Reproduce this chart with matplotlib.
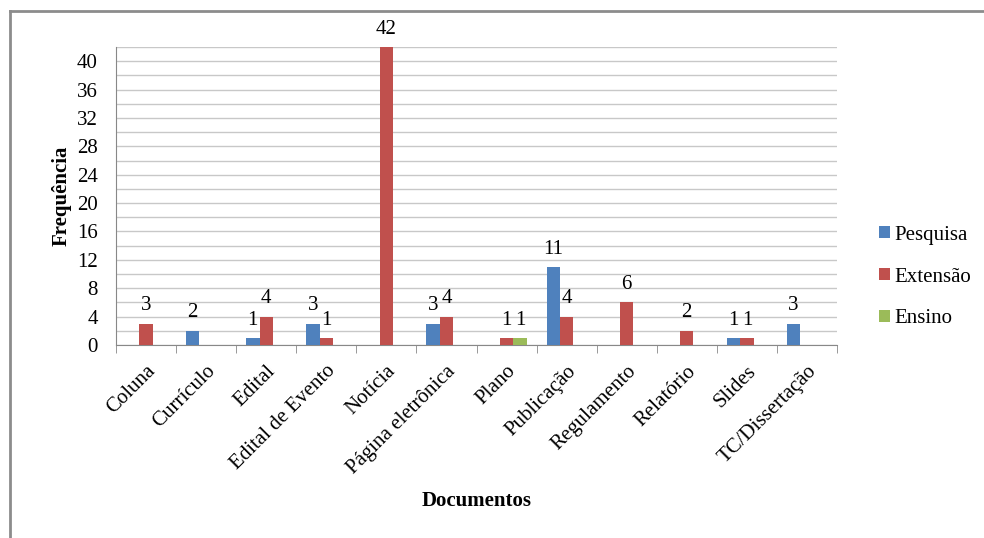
import matplotlib
matplotlib.use("Agg")
import matplotlib.pyplot as plt
import numpy as np
from matplotlib.lines import Line2D

categories = ["Coluna", "Currículo", "Edital", "Edital de Evento", "Notícia",
              "Página eletrônica", "Plano", "Publicação", "Regulamento",
              "Relatório", "Slides", "TC/Dissertação"]
pesquisa = [0, 2, 1, 3, 0, 3, 0, 11, 0, 0, 1, 3]
extensao = [3, 0, 4, 1, 42, 4, 1, 4, 6, 2, 1, 0]
ensino = [0, 0, 0, 0, 0, 0, 1, 0, 0, 0, 0, 0]
series_names = ["Pesquisa", "Extensão", "Ensino"]
colors = ["#4F81BD", "#C0504D", "#9BBB59"]
yticks = list(range(0, 41, 4))

plt.rcParams['font.family'] = ['Liberation Serif', 'DejaVu Serif']

fig = plt.figure(figsize=(9.84, 5.38), dpi=100)
W, H = 984, 538
ax = fig.add_axes([116 / W, 1 - 345 / H, (837 - 116) / W, (345 - 47) / H])

n = len(categories)
x = np.arange(n)
bw = 1 / 4.5
for i, (vals, name, c) in enumerate(zip([pesquisa, extensao, ensino], series_names, colors)):
    pos = x + (i - 1) * bw
    ax.bar(pos, vals, width=bw, color=c, label=name, zorder=3)
    for p, v in zip(pos, vals):
        if v > 0:
            ax.annotate(str(v), (p, v), xytext=(0, 6), textcoords="offset points",
                        ha="center", va="bottom", fontsize=15)

ax.set_xlim(-0.5, n - 0.5)
ax.set_ylim(0, 42)
ax.set_yticks(yticks)
ax.set_yticks(range(0, 43, 2), minor=True)
ax.yaxis.grid(True, which="both", color="#c8c8c8", linewidth=1.0, zorder=0)
ax.tick_params(axis="y", which="both", length=0, labelsize=15, pad=13)
ax.set_xticks(x)
ax.set_xticklabels(categories, rotation=45, ha="right", rotation_mode="anchor",
                   fontsize=15)
ax.tick_params(axis="x", length=0, pad=12)
ax.set_xticks(np.arange(-0.5, n, 1), minor=True)
ax.tick_params(axis="x", which="minor", length=6, color="#888888", direction="out")
for s in ["top", "right"]:
    ax.spines[s].set_visible(False)
ax.spines["left"].set_color("#888888")
ax.spines["bottom"].set_color("#888888")

ax.set_ylabel("Frequência", fontsize=15, fontweight="bold", labelpad=4)
ax.set_xlabel("Documentos", fontsize=15, fontweight="bold", labelpad=10)

ax.legend(loc="center left", bbox_to_anchor=(860 / W, 1 - 277 / H),
          bbox_transform=fig.transFigure, frameon=False, fontsize=15,
          handlelength=0.55, handleheight=0.55, handletextpad=0.2, labelspacing=1.1)

fig.add_artist(Line2D([10 / W, 10 / W], [0, 1 - 11 / H], transform=fig.transFigure,
                      color="#8c8c8c", linewidth=2))
fig.add_artist(Line2D([10 / W, 1], [1 - 11 / H, 1 - 11 / H], transform=fig.transFigure,
                      color="#8c8c8c", linewidth=2))

fig.savefig("out.png", dpi=100)
